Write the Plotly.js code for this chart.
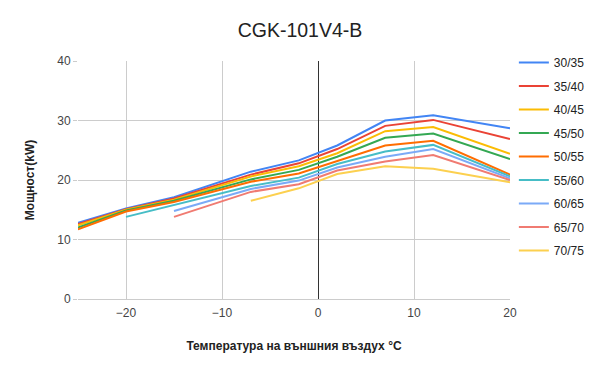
<!DOCTYPE html>
<html><head><meta charset="utf-8">
<script src="https://cdn.plot.ly/plotly-3.0.1.min.js"></script>
<style>html,body{margin:0;padding:0;background:#fff}</style>
</head><body><div id="chart" style="width:600px;height:371px"></div>
<script>
const temps = [-25, -20, -15, -7, -2, 2, 7, 12, 20];
const seriesNames = ["30/35","35/40","40/45","45/50","50/55","55/60","60/65","65/70","70/75"];
const s30_35 = [12.8, 15.2, 17.1, 21.4, 23.3, 25.8, 30.0, 30.9, 28.7];
const s35_40 = [12.6, 15.1, 16.9, 20.9, 22.8, 25.2, 29.1, 30.1, 26.9];
const s40_45 = [12.4, 15.0, 16.7, 20.6, 22.3, 24.5, 28.2, 28.9, 24.4];
const s45_50 = [12.0, 14.9, 16.5, 20.1, 21.7, 23.9, 27.1, 27.8, 23.5];
const s50_55 = [11.7, 14.7, 16.3, 19.7, 21.1, 23.2, 25.8, 26.6, 20.9];
const s55_60 = [null, 13.8, 15.8, 19.0, 20.4, 22.7, 24.8, 25.9, 20.6];
const s60_65 = [null, null, 14.8, 18.5, 19.9, 22.1, 23.9, 25.2, 20.3];
const s65_70 = [null, null, 13.8, 18.0, 19.3, 21.6, 23.1, 24.2, 20.0];
const s70_75 = [null, null, null, 16.5, 18.6, 21.0, 22.3, 21.9, 19.6];
const allSeries = [s30_35, s35_40, s40_45, s45_50, s50_55, s55_60, s60_65, s65_70, s70_75];
const colors = ["#4285F4","#EA4335","#FBBC04","#34A853","#FF6D01","#46BDC6","#7BAAF7","#F07B72","#FCD04F"];

const traces = allSeries.map((ys, i) => ({
  x: temps, y: ys, type: "scatter", mode: "lines", name: seriesNames[i],
  legendgroup: "g" + i,
  line: {color: colors[i], width: 2}, connectgaps: false
}));

const layout = {
  width: 600, height: 371,
  margin: {l: 78, r: 0, t: 61, b: 72},
  paper_bgcolor: "#fff", plot_bgcolor: "#fff",
  font: {family: "Liberation Sans, Arial, sans-serif", size: 12, color: "#444"},
  title: {text: "CGK-101V4-B", x: 0.5, xanchor: "center", xref: "container", y: 0.918, yref: "container", yanchor: "middle",
          font: {size: 19.5, color: "#222", family: "Liberation Sans, Arial, sans-serif"}},
  xaxis: {domain: [0, 432/522], range: [-25, 20], tickvals: [-20, -10, 0, 10, 20], showgrid: true, gridcolor: "#cccccc",
          zeroline: true, zerolinecolor: "#333", zerolinewidth: 1, showline: false,
          ticks: "", ticklabelstandoff: 5, tickfont: {size: 12, color: "#444"},
          title: {text: "Температура на външния въздух °C", standoff: 22,
                  font: {size: 12, color: "#222", weight: "bold"}}},
  yaxis: {range: [0, 40], tickvals: [0, 10, 20, 30, 40], showgrid: true, gridcolor: "#cccccc",
          zeroline: true, zerolinecolor: "#cccccc", showline: false,
          ticks: "outside", ticklen: 4, tickcolor: "#ccc", tickfont: {size: 12, color: "#444"},
          title: {text: "Мощност(kW)", standoff: 20, font: {size: 12, color: "#222", weight: "bold"}}},
  legend: {x: 0.835, xanchor: "left", y: 1.055, yanchor: "top", tracegroupgap: 4.5, maxheight: 300,
           font: {size: 12, color: "#222"}, itemwidth: 30, bgcolor: "rgba(0,0,0,0)"},
  showlegend: true
};
Plotly.newPlot("chart", traces, layout, {displayModeBar: false, staticPlot: true});
</script></body></html>
